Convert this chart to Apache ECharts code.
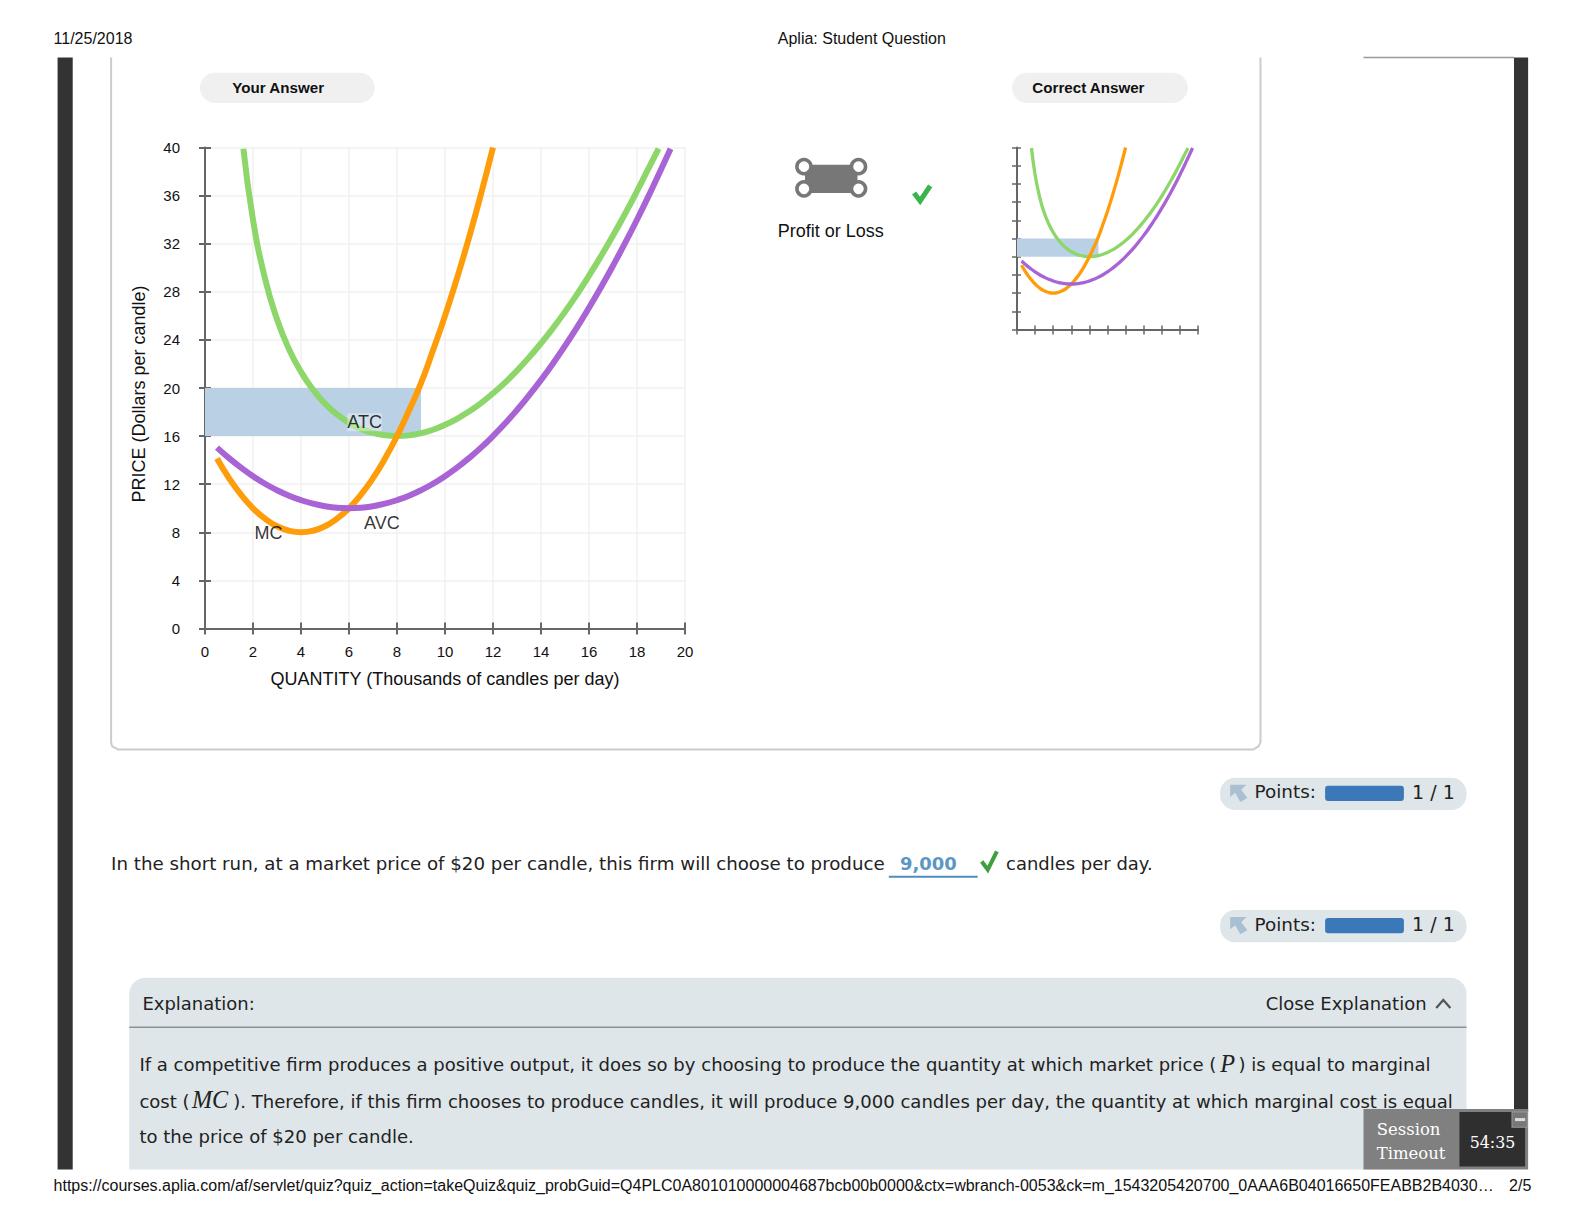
<!DOCTYPE html>
<html><head><meta charset="utf-8">
<style>html,body{margin:0;padding:0;background:#fff}#c{width:1584px;height:1224px}</style>
<script src="https://cdn.jsdelivr.net/npm/echarts@6/dist/echarts.min.js"></script>
</head><body><div id="c"></div>
<script>
const mcX=[0.5,1,1.5,2,2.5,3,3.5,4,4.5,5,5.5,6,6.5,7,7.5,8,8.5,9,9.5,10,10.5,11,11.5,12];
const mcY=[14.13,12.5,11.13,10,9.13,8.5,8.13,8,8.13,8.5,9.13,10,11.13,12.5,14.13,16,18.13,20.4,23.13,26,29.13,32.5,36.13,40];
const avcX=[0.5,1,1.5,2,2.5,3,3.5,4,4.5,5,5.5,6,6.5,7,7.5,8,8.5,9,9.5,10,10.5,11,11.5,12,12.5,13,13.5,14,14.5,15,15.5,16,16.5,17,17.5,18,18.5,19,19.4];
const avcY=[15.04,14.17,13.38,12.67,12.04,11.5,11.04,10.67,10.38,10.17,10.04,10,10.04,10.17,10.38,10.67,11.04,11.5,12.04,12.67,13.38,14.17,15.04,16,17.04,18.17,19.38,20.67,22.04,23.5,25.04,26.67,28.38,30.17,32.04,34,36.04,38.17,39.9];
const atcX=[1.6,2,2.5,3,3.5,4,4.5,5,5.5,6,6.5,7,7.5,8,8.5,9,9.5,10,10.5,11,11.5,12,12.5,13,13.5,14,14.5,15,15.5,16,16.5,17,17.5,18,18.5,18.9];
const atcY=[39.9,34,29.11,25.72,23.23,21.34,19.86,18.7,17.8,17.11,16.6,16.27,16.07,16,16.06,16.24,16.53,16.94,17.44,18.05,18.75,19.56,20.45,21.45,22.54,23.72,24.98,26.34,27.79,29.34,30.97,32.68,34.48,36.37,38.35,39.9];
const profitRect={q:9,top:20,bottom:16};
const curveLabels=[['ATC',6.65,17.15],['MC',2.65,7.98],['AVC',7.37,8.74]];
const xTitle='QUANTITY (Thousands of candles per day)';
const yTitle='PRICE (Dollars per candle)';
const GREEN='#8cd66a',ORANGE='#ff9c0a',PURPLE='#a863d4',BLUE='#bad0e4',AX='#666';
const ARIAL='"Liberation Sans"',DJ='"DejaVu Sans"',SERIF='"DejaVu Serif"',MATH='"Liberation Serif"';
const K=1.0101;

function zip(a,b){return a.map((v,i)=>[v,b[i]]);}
function axes(grid,major){
  const baseX={type:'value',gridIndex:grid,min:0,max:20,interval:2,position:'bottom'};
  const baseY={type:'value',gridIndex:grid,min:0,max:40,interval:4,position:'left'};
  const line={show:true,onZero:false,lineStyle:{color:AX,width:2}};
  const tick=(len,inside)=>({show:true,inside,length:len,lineStyle:{color:AX,width:major?2:1.5}});
  const split=major?{show:true,lineStyle:{color:'#f0f0f0',width:1.5}}:{show:false};
  return {
    x:[
      Object.assign({},baseX,{axisLine:line,axisTick:tick(major?6:5,false),splitLine:split,
        axisLabel:major?{show:true,margin:15.5,fontFamily:ARIAL,fontSize:15,color:'#111',hideOverlap:false}:{show:false},
        name:major?xTitle:'',nameLocation:'middle',nameGap:41,nameTextStyle:{fontFamily:ARIAL,fontSize:18,color:'#111'}}),
      Object.assign({},baseX,{axisLine:{show:false},axisTick:tick(major?6:4,true),splitLine:{show:false},axisLabel:{show:false}})
    ],
    y:[
      Object.assign({},baseY,{axisLine:line,axisTick:tick(major?6:5,false),splitLine:split,
        axisLabel:major?{show:true,margin:25,fontFamily:ARIAL,fontSize:15,color:'#111',hideOverlap:false}:{show:false},
        name:major?yTitle:'',nameLocation:'middle',nameGap:57,nameTextStyle:{fontFamily:ARIAL,fontSize:18,color:'#111',padding:[0,12,0,0]}}),
      Object.assign({},baseY,{axisLine:{show:false},axisTick:tick(major?6:4,true),splitLine:{show:false},axisLabel:{show:false}})
    ]
  };
}
const main=axes(0,true), small=axes(1,false);

function curves(xi,yi,w){
  const lineS=(name,x,y,color)=>({name,type:'line',xAxisIndex:xi,yAxisIndex:yi,data:zip(x,y),
    smooth:true,showSymbol:false,symbol:'none',silent:true,lineStyle:{color,width:w,cap:'butt'},z:3});
  return [
    {type:'line',xAxisIndex:xi,yAxisIndex:yi,data:[],silent:true,z:2,
     markArea:{silent:true,itemStyle:{color:BLUE,opacity:1},
       data:[[{coord:[0,profitRect.top]},{coord:[profitRect.q,profitRect.bottom]}]]}},
    lineS('ATC',atcX,atcY,GREEN),
    lineS('MC',mcX,mcY,ORANGE),
    lineS('AVC',avcX,avcY,PURPLE)
  ];
}
const labelSeries={type:'scatter',xAxisIndex:0,yAxisIndex:0,symbolSize:0,silent:true,z:6,
  data:curveLabels.map(l=>({value:[l[1],l[2]],name:l[0],
    label:{show:true,position:'inside',formatter:l[0],fontFamily:ARIAL,fontSize:18,color:'#000',
      backgroundColor:l[0]==='ATC'?'rgba(255,255,255,0.45)':'rgba(255,255,255,0.0)'}}))};

function T(x,y,text,o){o=o||{};return {type:'text',x,y,z:o.z||20,silent:true,style:{text,fill:o.c||'#111',
  font:(o.w?o.w+' ':'')+(o.s||17)+'px '+(o.f||ARIAL),textAlign:o.a||'left',textVerticalAlign:'middle'}};}
function R(x,y,w,h,fill,r,z,stroke){return {type:'rect',z:z||1,silent:true,shape:{x,y,width:w,height:h,r:r||0},style:{fill,stroke:stroke||null}};}
function P(points,stroke,w,z){return {type:'polyline',z:z||20,silent:true,shape:{points},style:{stroke,lineWidth:w,fill:null}};}
function pg(points,fill,z){return {type:'polygon',z:z||20,silent:true,shape:{points},style:{fill}};}
function C(cx,cy,r){return {type:'circle',z:20,silent:true,shape:{cx,cy,r},style:{fill:'#fff',stroke:'#777',lineWidth:3.5}};}
function points(y){return [
  R(1208,y,244,32,'#dfe6ea',15,2),
  pg([[1218,y+7],[1234,y+7],[1229,y+12],[1235,y+20],[1228,y+24],[1223,y+15],[1218,y+19]],'#a9bfd2'),
  T(1242,y+14,'Points:',{f:DJ,s:18.2,c:'#222'}),
  R(1312,y+8,78,15,'#3b78b8',3,5),
  T(1398,y+14,'1 / 1',{f:DJ,s:18.8,c:'#222'})
];}
const elements=[
 R(57,57,15,1101,'#333',0,1), R(1499,57,14,1044,'#333',0,1),
 P([[1350,57],[1499,57]],'#999',1.5,1),
 {type:'polyline',z:1,silent:true,shape:{points:[[110,57],[110,735],[111,739],[117,742],[1241,742],[1246,739],[1248,735],[1248,57]]},style:{stroke:'#ccc',lineWidth:2,fill:null}},
 R(198,72,173,30,'#f0f0f0',15,2), T(230,87,'Your Answer',{w:'bold',s:15}),
 R(1002,72,174,30,'#f0f0f0',15,2), T(1022,87,'Correct Answer',{w:'bold',s:15}),
 R(797,163,52,28,'#777',0,15), C(796,165,7), C(850,165,7), C(796,187,7), C(850,187,7),
 P([[905,191],[911,199],[921,184]],'#3cb44c',5),
 T(770,229,'Profit or Loss',{s:17.8}),
 T(110,855,'In the short run, at a market price of $20 per candle, this firm will choose to produce',{f:DJ,s:18.05,c:'#222'}),
 T(891,855,'9,000',{f:DJ,s:17.8,w:'bold',c:'#5b96c4'}),
 R(880,867,88,2,'#4f8dbd',0,5),
 P([[972,853],[978,861],[987,843]],'#3f9e3f',4),
 T(996,855,'candles per day.',{f:DJ,s:17.8,c:'#222'}),
 ...points(770),...points(901),
 {type:'rect',z:1,silent:true,shape:{x:128,y:968,width:1324,height:190,r:[16,16,0,0]},style:{fill:'#dee6e9'}},
 P([[128,1017],[1452,1017]],'#8a9193',1.5,3),
 T(141,993,'Explanation:',{f:DJ,s:17.8,c:'#222'}),
 T(1253,993,'Close Explanation',{f:DJ,s:17.8,c:'#222'}),
 P([[1422,998],[1429,990],[1436,998]],'#555',2.2),
 T(138,1054,'If a competitive firm produces a positive output, it does so by choosing to produce the quantity at which market price (',{f:DJ,s:17.87,c:'#222'}),
 T(1208,1053,'P',{f:MATH,s:24,c:'#222',w:'italic'}),
 T(1226,1054,') is equal to marginal',{f:DJ,s:17.87,c:'#222'}),
 T(138,1090,'cost (',{f:DJ,s:17.87,c:'#222'}),
 T(190,1089,'MC',{f:MATH,s:24,c:'#222',w:'italic'}),
 T(231,1090,'). Therefore, if this firm chooses to produce candles, it will produce 9,000 candles per day, the quantity at which marginal cost is equal',{f:DJ,s:17.87,c:'#222'}),
 T(138,1125,'to the price of $20 per candle.',{f:DJ,s:17.87,c:'#222'}),
 R(1350,1098,163,60,'#808080',0,25),
 R(1445,1101,65,54,'#2f2f2f',0,26),
 R(1497,1101,15,15,'#777',0,27,'#999'),
 R(1500,1107,10,3,'#ddd',0,28),
 T(1363,1118,'Session',{f:SERIF,s:16.3,c:'#fff',z:28}),
 T(1363,1142,'Timeout',{f:SERIF,s:16.3,c:'#fff',z:28}),
 T(1455,1131,'54:35',{f:SERIF,s:15.7,c:'#fff',z:28}),
 T(53,38,'11/25/2018',{s:15.85}),
 T(770,38,'Aplia: Student Question',{s:15.85}),
 T(53,1174,'https://courses.aplia.com/af/servlet/quiz?quiz_action=takeQuiz&quiz_probGuid=Q4PLC0A801010000004687bcb00b0000&ctx=wbranch-0053&ck=m_1543205420700_0AAA6B04016650FEABB2B4030…',{s:15.85}),
 T(1494,1174,'2/5',{s:15.85})
];

const chart=echarts.init(document.getElementById('c'),null,{renderer:'svg',width:1584,height:1224});
chart.setOption({
  animation:false,backgroundColor:'#fff',
  grid:[{left:205,top:147.5,width:480,height:481},{left:1017,top:147.5,width:181,height:182}],
  xAxis:[...main.x,...small.x],
  yAxis:[...main.y,...small.y],
  series:[...curves(0,0,6),labelSeries,...curves(2,2,3.3)],
  graphic:{elements:[{type:'group',x:0,y:0,scaleX:K,scaleY:K,children:elements}]}
});
</script></body></html>
